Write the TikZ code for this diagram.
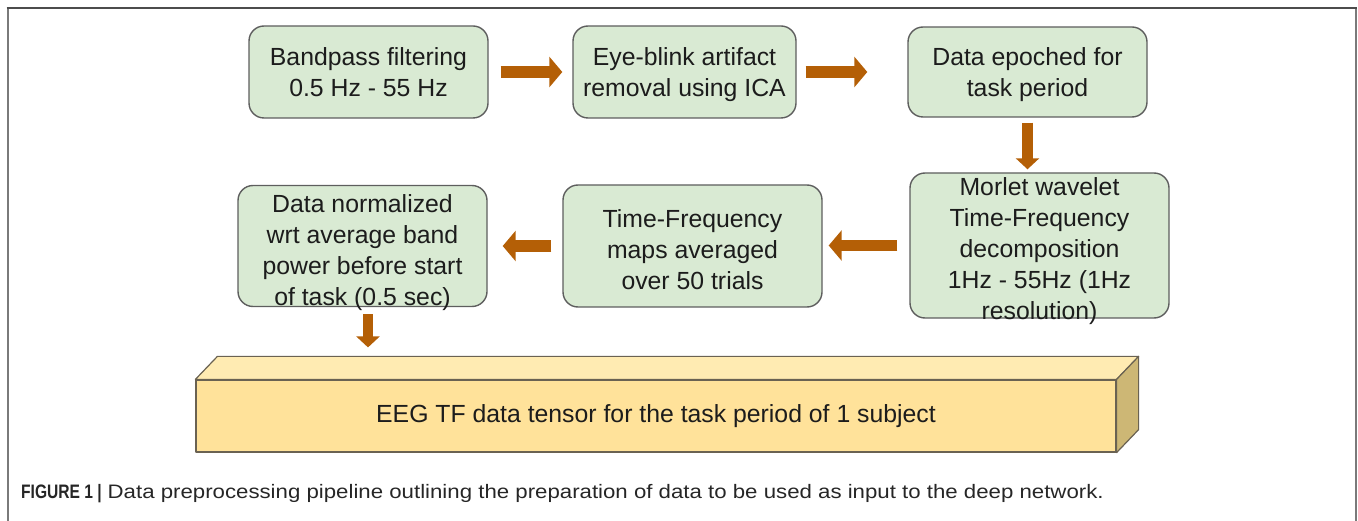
\documentclass[tikz,border=0pt]{standalone}
\usepackage{fontspec}
\setmainfont{Liberation Sans}
\newfontfamily\capbold[FakeStretch=0.8]{Liberation Sans}
\newfontfamily\capreg[FakeStretch=1.14]{Liberation Sans}
\usetikzlibrary{arrows.meta}
\definecolor{boxfill}{HTML}{D9EAD3}
\definecolor{boxline}{HTML}{5E5E5E}
\definecolor{arrowc}{HTML}{B45F06}
\definecolor{txt}{HTML}{1C1C1C}
\definecolor{cubefront}{HTML}{FFE29A}
\definecolor{cubetop}{HTML}{FFEBB2}
\definecolor{cubeside}{HTML}{CDB775}
\definecolor{cubeline}{HTML}{6A6252}
\definecolor{framec}{HTML}{7A7A7A}
\tikzset{
  stepbox/.style={draw=boxline, line width=1.4pt, fill=boxfill, rounded corners=15pt, inner sep=0pt},
  boxtext/.style={text=txt, align=center, font=\fontsize{24.8}{31}\selectfont},
  harrow/.style={draw=arrowc, line width=11.5pt, -{Triangle[length=13pt,width=30pt]}},
  varrow/.style={draw=arrowc, line width=10.5pt, -{Triangle[length=11pt,width=23pt]}},
  cubeface/.style={draw=cubeline, line width=1.2pt, line join=round}
}
\begin{document}
\begin{tikzpicture}[x=1pt,y=-1pt]
\useasboundingbox (0,0) rectangle (1358,521);
% frame
\draw[framec, line width=2pt] (7.5,521) -- (7.5,8);
\draw[framec, line width=2pt] (1356,521) -- (1356,8);
\draw[black!70, line width=2pt] (6.5,8) -- (1357,8);

% boxes
\node[stepbox, minimum width=239pt, minimum height=92pt] (b1) at (368.5,72) {};
\node[boxtext] at (368.5,72) {Bandpass filtering\\0.5 Hz - 55 Hz};
\node[stepbox, minimum width=223pt, minimum height=92pt] (b2) at (684.5,72) {};
\node[boxtext] at (684.5,75) {Eye-blink artifact\\removal using ICA};
\node[stepbox, minimum width=239pt, minimum height=90pt] (b3) at (1027.5,72) {};
\node[boxtext] at (1027.5,75) {Data epoched for\\task period};
\node[stepbox, minimum width=259pt, minimum height=145pt] (b4) at (1039.5,245.5) {};
\node[boxtext] at (1039.5,251) {Morlet wavelet\\Time-Frequency\\decomposition\\1Hz - 55Hz (1Hz\\resolution)};
\node[stepbox, minimum width=259pt, minimum height=122pt] (b5) at (692.5,246) {};
\node[boxtext] at (692.5,250) {Time-Frequency\\maps averaged\\over 50 trials};
\node[stepbox, minimum width=249pt, minimum height=121pt] (b6) at (362.5,246) {};
\node[boxtext] at (362.5,253) {Data normalized\\wrt average band\\power before start\\of task (0.5 sec)};

% tensor cuboid
\node[cubeface, fill=cubefront, minimum width=920pt, minimum height=72pt, inner sep=0pt] (t) at (656,416) {};
\draw[cubeface, fill=cubetop] (t.north west) -- ++(22,-23) -- ([shift={(22,-23)}]t.north east) -- (t.north east) -- cycle;
\draw[cubeface, fill=cubeside] (t.north east) -- ++(22,-23) -- ([shift={(22,-23)}]t.south east) -- (t.south east) -- cycle;
\node[boxtext] at (t.center) {EEG TF data tensor for the task period of 1 subject};

% arrows
\draw[harrow, shorten <=12pt, shorten >=10pt] (b1.east) -- (b2.west);
\draw[harrow, shorten <=9pt, shorten >=40pt] (b2.east) -- (b2.east -| b3.west);
\draw[varrow, shorten <=5pt, shorten >=3pt] (b3.south) -- (b3.south |- b4.north);
\draw[harrow, shorten <=12pt, shorten >=6pt] (b4.west) -- (b4.west -| b5.east);
\draw[harrow, shorten <=11pt, shorten >=15pt] (b5.west) -- (b5.west -| b6.east);
\coordinate (tt) at ([xshift=5.5pt]b6.south);
\coordinate (ttop) at ([yshift=23pt]t.north);
\draw[varrow, shorten <=7pt, shorten >=9pt] (tt) -- (tt |- ttop);

% caption
\node[anchor=base west, inner sep=0pt, text=black!85, font=\fontsize{19.5}{22}\selectfont] (cap) at (21,498)
  {{\capbold\bfseries FIGURE 1 |}\hspace{0.3em}{\capreg Data preprocessing pipeline outlining the preparation of data to be used as input to the deep network.}};
\end{tikzpicture}
\end{document}
